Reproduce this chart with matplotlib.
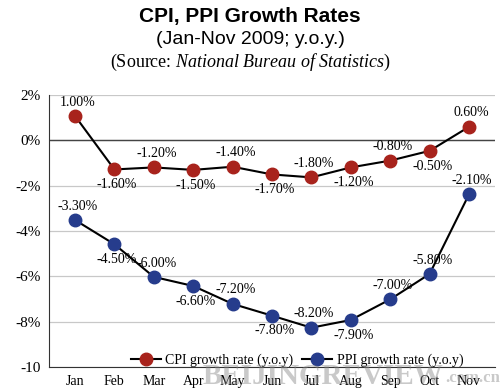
import matplotlib.pyplot as plt

months = ['Jan', 'Feb', 'Mar', 'Apr', 'May', 'Jun', 'Jul', 'Aug', 'Sep', 'Oct', 'Nov']
# plotted positions
cpi = [1.07, -1.29, -1.20, -1.31, -1.17, -1.51, -1.64, -1.20, -0.90, -0.47, 0.59]
ppi = [-3.52, -4.59, -6.03, -6.43, -7.22, -7.74, -8.27, -7.93, -7.02, -5.90, -2.39]
# printed data labels
cpi_labels = ['1.00%', '-1.60%', '-1.20%', '-1.50%', '-1.40%', '-1.70%',
              '-1.80%', '-1.20%', '-0.80%', '-0.50%', '0.60%']
ppi_labels = ['-3.30%', '-4.50%', '-6.00%', '-6.60%', '-7.20%', '-7.80%',
              '-8.20%', '-7.90%', '-7.00%', '-5.80%', '-2.10%']
cpi_above = [True, False, True, False, True, False, True, False, True, False, True]
ppi_above = [True, False, True, False, True, False, True, False, True, True, True]
yticks = [2, 0, -2, -4, -6, -8, -10]
ytick_labels = ['2%', '0%', '-2%', '-4%', '-6%', '-8%', '-10']

serif = 'Liberation Serif'
sans = 'Liberation Sans'
plt.rcParams['mathtext.fontset'] = 'custom'
plt.rcParams['mathtext.rm'] = serif
plt.rcParams['mathtext.it'] = serif + ':italic'

fig = plt.figure(figsize=(5, 3.92), dpi=100)
ax = fig.add_axes([0.098, 0.064, 0.892, 0.694])

x = list(range(len(months)))
ax.plot(x, cpi, color='black', lw=1.5, marker='o', ms=9,
        mfc='#a8231c', mec='#a8231c', label='CPI growth rate (y.o.y)', zorder=3)
ax.plot(x, ppi, color='black', lw=1.5, marker='o', ms=9,
        mfc='#263c8c', mec='#263c8c', label='PPI growth rate (y.o.y)', zorder=3)

for vals, labs, above in [(cpi, cpi_labels, cpi_above), (ppi, ppi_labels, ppi_above)]:
    for i in range(len(vals)):
        dy = 10 if above[i] else -11
        ax.annotate(labs[i], (x[i], vals[i]), xytext=(2, dy), textcoords='offset points',
                    ha='center', va='center', fontsize=10, family=serif)

ax.set_xlim(-0.66, 10.66)
ax.set_ylim(-10, 2)
ax.set_yticks(yticks)
ax.set_yticklabels(ytick_labels, family=serif, fontsize=11)
ax.set_xticks(x)
ax.set_xticklabels(months, family=serif, fontsize=10)
ax.tick_params(length=0, pad=6)
ax.grid(axis='y', color='#c8c8c8', lw=0.9)
ax.axhline(0, color='#444444', lw=1)
for s in ['top', 'right']:
    ax.spines[s].set_visible(False)
ax.spines['left'].set_color('#333333')
ax.spines['bottom'].set_color('#333333')
ax.set_axisbelow(True)

ax.legend(loc='lower center', bbox_to_anchor=(0.556, -0.045), ncol=2, frameon=False,
          prop={'family': serif, 'size': 10}, handlelength=2.2, handletextpad=0.3,
          columnspacing=0.6)

fig.text(0.5, 0.957, 'CPI, PPI Growth Rates', ha='center', va='center',
         family=sans, weight='bold', fontsize=15)
fig.text(0.5, 0.898, '(Jan-Nov 2009; y.o.y.)', ha='center', va='center',
         family=sans, fontsize=14)
fig.text(0.5, 0.84, '(Source: $\\mathit{National\\ Bureau\\ of\\ Statistics}$)', ha='center',
         va='center', family=serif, fontsize=13)

# watermark
fig.text(0.405, 0.005, 'BEIJINGREVIEW', ha='left', va='bottom', family=serif,
         weight='bold', fontsize=21, color='#888888', alpha=0.45)
fig.text(0.89, 0.015, '.com.cn', ha='left', va='bottom', family=serif,
         weight='bold', fontsize=12, color='#888888', alpha=0.45)

fig.savefig('out.png', dpi=100)
